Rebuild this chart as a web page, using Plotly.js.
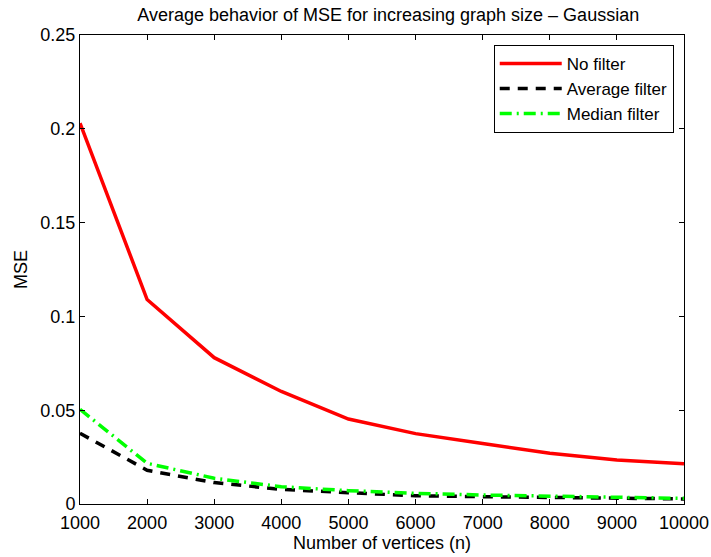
<!DOCTYPE html>
<html>
<head>
<meta charset="utf-8">
<script src="https://cdn.plot.ly/plotly-3.0.1.min.js"></script>
<style>html,body{margin:0;padding:0;background:#fff}</style>
</head>
<body>
<div id="chart" style="width:711px;height:557px"></div>
<script>
const vertices = [1000, 2000, 3000, 4000, 5000, 6000, 7000, 8000, 9000, 10000];
const noFilter = [0.203, 0.109, 0.078, 0.060, 0.0453, 0.0375, 0.0323, 0.027, 0.0235, 0.0214];
const averageFilter = [0.0377, 0.018, 0.0114, 0.0078, 0.006, 0.0044, 0.0039, 0.0035, 0.003, 0.0027];
const medianFilter = [0.0505, 0.0217, 0.0137, 0.0092, 0.0071, 0.0057, 0.0048, 0.0043, 0.0035, 0.003];
const seriesNames = ["No filter", "Average filter", "Median filter"];

const font = "Liberation Sans, Arial, Helvetica, sans-serif";
const traces = [
  {x: vertices, y: noFilter, name: seriesNames[0], mode: "lines", line: {color: "#ff0000", width: 3.5}},
  {x: vertices, y: averageFilter, name: seriesNames[1], mode: "lines", line: {color: "#000000", width: 3.5, dash: "10px,8px"}},
  {x: vertices, y: medianFilter, name: seriesNames[2], mode: "lines", line: {color: "#00ff00", width: 3.5, dash: "12px,5px,2px,5px"}}
];
const axisCommon = {
  showgrid: false, zeroline: false, showline: true, linecolor: "#000", linewidth: 1,
  mirror: "ticks", ticks: "inside", ticklen: 5, tickcolor: "#000",
  tickfont: {family: font, size: 18, color: "#000"}
};
const layout = {
  width: 711, height: 557,
  margin: {l: 80, r: 27, t: 35, b: 53},
  paper_bgcolor: "#fff", plot_bgcolor: "#fff",
  title: {text: "Average behavior of MSE for increasing graph size \u2013 Gaussian", font: {family: font, size: 18, color: "#000"}, x: 0.546, xanchor: "center", y: 0.973, yanchor: "middle"},
  xaxis: Object.assign({}, axisCommon, {range: [1000, 10000], dtick: 1000, tick0: 1000, tickformat: "d", ticklabelstandoff: 2,
    title: {text: "Number of vertices (n)", font: {family: font, size: 18, color: "#000"}, standoff: 1}}),
  yaxis: Object.assign({}, axisCommon, {range: [0, 0.25], dtick: 0.05, tick0: 0,
    title: {text: "MSE", font: {family: font, size: 18, color: "#000"}, standoff: 8}}),
  showlegend: true,
  legend: {x: 0.983, xanchor: "right", y: 0.979, yanchor: "top", bgcolor: "#fff", bordercolor: "#000", borderwidth: 1,
    font: {family: font, size: 17, color: "#000"}, tracegroupgap: 0, itemwidth: 62}
};
Plotly.newPlot("chart", traces, layout, {displayModeBar: false, staticPlot: true});
</script>
</body>
</html>
